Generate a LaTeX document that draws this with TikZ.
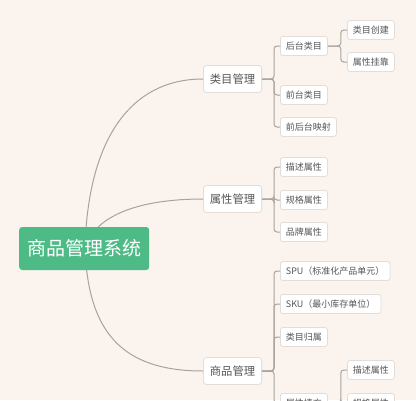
\documentclass[tikz,border=0pt]{standalone}
\usepackage{fontspec}
\setmainfont{Noto Sans CJK SC}
\usetikzlibrary{calc}
\definecolor{bgc}{RGB}{250,243,238}
\definecolor{rootc}{RGB}{78,187,134}
\definecolor{linec}{RGB}{168,163,158}
\definecolor{bordc}{RGB}{226,221,216}
\definecolor{txtc}{RGB}{85,85,85}
\tikzset{
  rootbox/.style={draw=none,fill=rootc,rounded corners=3pt,text=white,font=\fontsize{19}{19}\selectfont,inner xsep=8pt,minimum height=43pt,anchor=west},
  lvone/.style={draw=bordc,fill=white,rounded corners=3pt,text=txtc,font=\fontsize{11.3}{11.3}\selectfont,inner xsep=6.5pt,minimum height=27pt,anchor=west,line width=0.8pt},
  lvtwo/.style={draw=bordc,fill=white,rounded corners=2.5pt,text=txtc,font=\fontsize{9}{9}\selectfont,inner xsep=5.5pt,minimum height=19pt,anchor=west,line width=0.8pt},
  conn/.style={draw=linec,line width=1pt},
  brk/.style={draw=linec,line width=1pt,rounded corners=3pt}
}
\begin{document}
\begin{tikzpicture}[x=1pt,y=-1pt]
\fill[bgc] (0,0) rectangle (416,400);
\useasboundingbox (0,0) rectangle (416,400);
\clip (0,0) rectangle (416,400);
% root
\coordinate (rc) at (85,248);
% level 1
\node[lvone] (lm) at (203,79) {类目管理};
\node[lvone] (sx) at (203,199) {属性管理};
\node[lvone] (sp) at (203,371) {商品管理};
% curves
\draw[conn] (rc) .. controls (88,140) and (130,79) .. (lm.west);
\draw[conn] (rc) .. controls (95,215) and (140,199) .. (sx.west);
\draw[conn] (rc) .. controls (88,330) and (120,371) .. (sp.west);
\node[rootbox] (root) at (19,248.5) {商品管理系统};
% level 2 under 类目管理
\node[lvtwo] (ht) at (280,46) {后台类目};
\node[lvtwo] (qt) at (280,95) {前台类目};
\node[lvtwo] (ys) at (280,127) {前后台映射};
\node[lvtwo] (cj) at (347,30) {类目创建};
\node[lvtwo] (gk) at (347,62) {属性挂靠};
% level 2 under 属性管理
\node[lvtwo] (ms) at (280,167) {描述属性};
\node[lvtwo] (gg) at (280,200) {规格属性};
\node[lvtwo] (pp) at (280,232) {品牌属性};
% level 2 under 商品管理
\node[lvtwo] (spu) at (280,271) {SPU（标准化产品单元）};
\node[lvtwo] (sku) at (280,304) {SKU（最小库存单位）};
\node[lvtwo] (gs) at (280,337) {类目归属};
\node[lvtwo] (tc) at (280,403) {属性填充};
\node[lvtwo] (ms2) at (347,370) {描述属性};
\node[lvtwo] (gg2) at (347,403) {规格属性};
% brackets
\foreach \c in {ht,qt,ys} \draw[brk] (lm.east) -- ++(12,0) |- (\c.west);
\foreach \c in {cj,gk} \draw[brk] (ht.east) -- ++(13,0) |- (\c.west);
\foreach \c in {ms,gg,pp} \draw[brk] (sx.east) -- ++(12,0) |- (\c.west);
\foreach \c in {spu,sku,gs,tc} \draw[brk] (sp.east) -- ++(12,0) |- (\c.west);
\foreach \c in {ms2,gg2} \draw[brk] (tc.east) -- ++(13,0) |- (\c.west);
\end{tikzpicture}
\end{document}
